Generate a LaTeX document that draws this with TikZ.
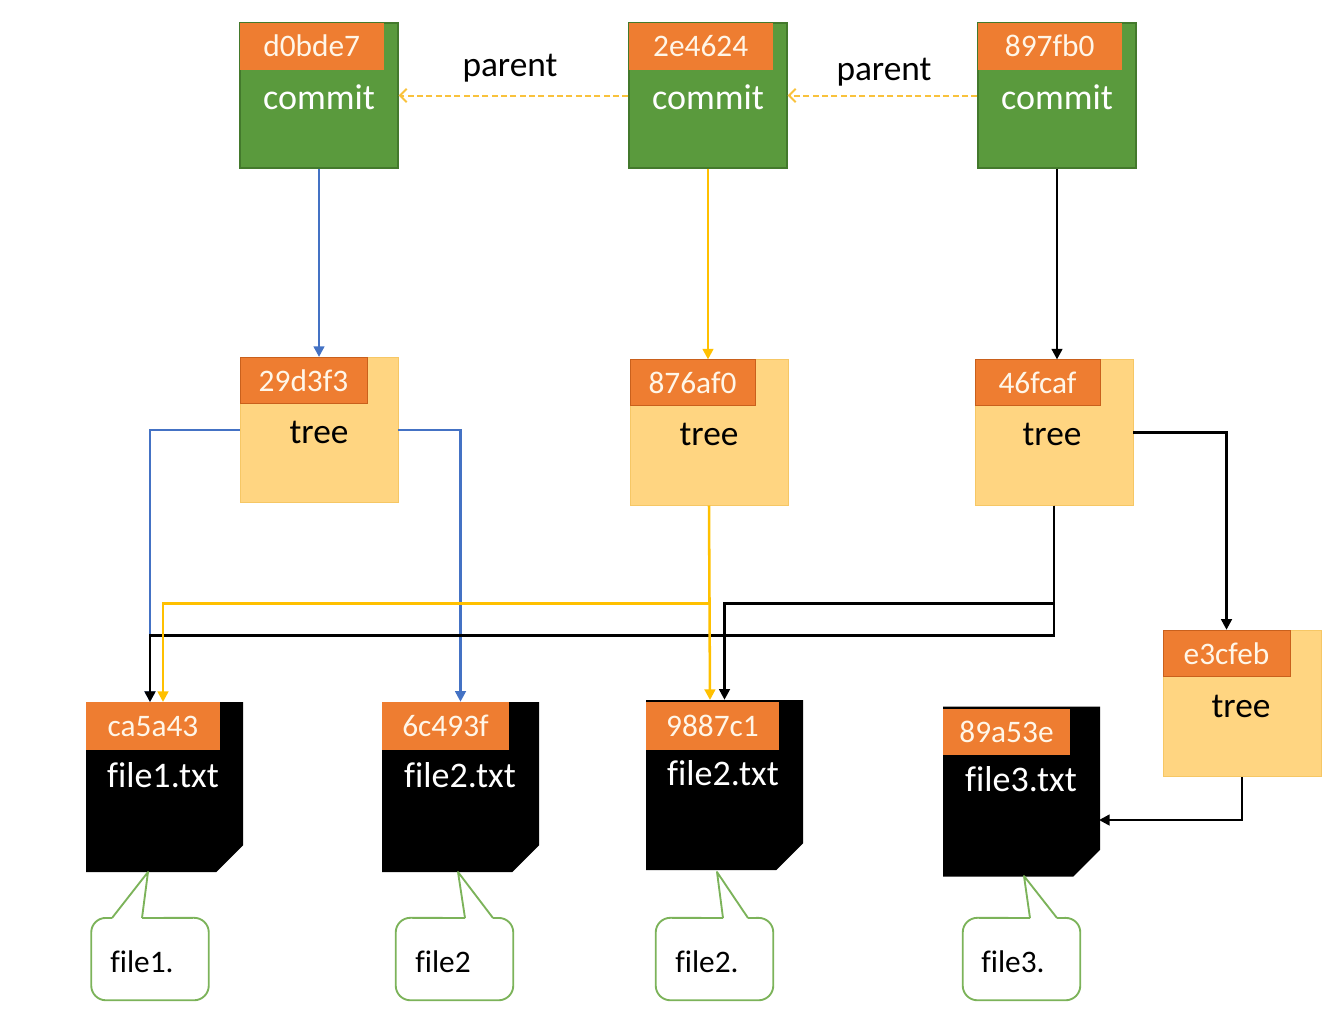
\documentclass[tikz,border=0pt]{standalone}
\usepackage{fontspec}
\setmainfont{Carlito}[Ligatures=NoCommon]
\usetikzlibrary{arrows.meta}
\definecolor{cgreen}{HTML}{5A9A3D}
\definecolor{cgreendk}{HTML}{43792C}
\definecolor{corange}{HTML}{EE7D31}
\definecolor{corangedk}{HTML}{C9601C}
\definecolor{ctree}{HTML}{FFD581}
\definecolor{ctreedk}{HTML}{F6C765}
\definecolor{cblue}{HTML}{4472C4}
\definecolor{cyel}{HTML}{FFC000}
\definecolor{cdash}{HTML}{F9C23C}
\definecolor{ccall}{HTML}{7CB35A}
\definecolor{ccream}{HTML}{FFF6E8}
\begin{document}
\begin{tikzpicture}[x=0.75pt,y=-0.75pt,
  commitbox/.style={draw=cgreendk, fill=cgreen, line width=0.9pt, minimum width=118.5pt, minimum height=108.75pt, inner sep=0pt},
  treebox/.style={draw=ctreedk, fill=ctree, line width=0.6pt, minimum width=118.5pt, minimum height=109pt, inner sep=0pt},
  filebox/.style={minimum width=117.75pt, minimum height=127.5pt, inner sep=0pt,
    path picture={\fill[black] (path picture bounding box.north west) -- (path picture bounding box.north east)
      -- ([yshift=20pt]path picture bounding box.south east) -- ([xshift=-20pt]path picture bounding box.south east)
      -- (path picture bounding box.south west) -- cycle;}},
  hashlbl/.style={fill=corange, anchor=north west, minimum height=35.25pt, inner sep=0pt, text=ccream, font=\fontsize{23.5}{26}\selectfont},
  treelbl/.style={hashlbl, draw=corangedk, line width=0.6pt},
  wtext/.style={text=white, font=\fontsize{27}{30}\selectfont, inner sep=0pt},
  btext/.style={text=black, font=\fontsize{26.5}{30}\selectfont, inner sep=0pt},
  calltext/.style={text=black, font=\fontsize{23.5}{26}\selectfont, inner sep=0pt, anchor=west},
  callbox/.style={minimum width=87.75pt, minimum height=61.5pt, inner sep=0pt},
  callline/.style={draw=ccall, line width=1.4pt},
  conn/.style={line width=1.9pt, -{Triangle[length=8pt,width=8pt]}},
  parentarrow/.style={draw=cdash, line width=1.5pt, dash pattern=on 4.5pt off 2.5pt, -{Straight Barb[length=5pt,width=10pt]}}
]
\useasboundingbox (0,0) rectangle (1341,1015);

% ---------------- commits ----------------
\node[commitbox] (c1) at (319,95.5) {};
\node[hashlbl, minimum width=108pt] (c1l) at (c1.north west) {d0bde7};
\node[wtext] (c1t) at (319,97) {commit};

\node[commitbox] (c2) at (708,95.5) {};
\node[hashlbl, minimum width=108pt] (c2l) at (c2.north west) {2e4624};
\node[wtext] (c2t) at (708,97) {commit};

\node[commitbox] (c3) at (1057,95.5) {};
\node[hashlbl, minimum width=108pt] (c3l) at (c3.north west) {897fb0};
\node[wtext] (c3t) at (1057,97) {commit};

% parent links
\draw[parentarrow] (c2.west) -- (c1.east);
\draw[parentarrow] (c3.west) -- (c2.east);
\node[btext] (p1) at (510,68) {parent};
\node[btext] (p2) at (884,72) {parent};

% ---------------- trees ----------------
\node[treebox] (t1) at (319,430) {};
\node[treelbl, minimum width=95.25pt, minimum height=34.5pt] (t1l) at (t1.north west) {29d3f3};
\node[btext] (t1t) at (319,432) {tree};

\node[treebox] (t2) at (709,432.5) {};
\node[treelbl, minimum width=93.75pt, minimum height=34.5pt] (t2l) at (t2.north west) {876af0};
\node[btext] (t2t) at (709,434) {tree};

\node[treebox] (t3) at (1054,432.5) {};
\node[treelbl, minimum width=93.75pt, minimum height=34.5pt] (t3l) at (t3.north west) {46fcaf};
\node[btext] (t3t) at (1052,434) {tree};

\node[treebox, minimum height=110pt] (t4) at (1242,703.5) {};
\node[treelbl, minimum width=95.25pt, minimum height=35pt] (t4l) at (t4.north west) {e3cfeb};
\node[btext] (t4t) at (1241,706) {tree};

% ---------------- files ----------------
\node[filebox] (f1) at (164.5,787) {};
\node[hashlbl, minimum width=100.5pt, minimum height=36pt] (f1l) at (f1.north west) {ca5a43};
\node[wtext] (f1t) at (163,775) {file1.txt};

\node[filebox] (f2) at (460.5,787) {};
\node[hashlbl, minimum width=95.25pt, minimum height=36pt] (f2l) at (f2.north west) {6c493f};
\node[wtext] (f2t) at (460,775) {file2.txt};

\node[filebox] (f3) at (724.5,785) {};
\node[hashlbl, minimum width=99.75pt, minimum height=36pt] (f3l) at ([yshift=-1.5pt]f3.north west) {9887c1};
\node[wtext] (f3t) at (723,773) {file2.txt};

\node[filebox] (f4) at (1021.5,791.5) {};
\node[hashlbl, minimum width=95.25pt, minimum height=35pt] (f4l) at ([yshift=-1.5pt]f4.north west) {89a53e};
\node[wtext] (f4t) at (1021,779) {file3.txt};

% ---------------- connectors ----------------
\coordinate (f1a) at (150,702);
\coordinate (f1b) at (163,702);
\coordinate (f3a) at (710,700);
\coordinate (f4in) at (1099,820);

\draw[conn, cblue] (c1.south) -- (t1.north);
\draw[conn, cyel] (c2.south) -- (c2.south |- t2.north);
\draw[conn, black] (c3.south) -- (c3.south |- t3.north);

\draw[conn, cblue] (t1.west) -| (f1a);
\draw[conn, cblue] (t1.east) -| (f2.north);

\draw[conn, black] (t3.south) -- ++(0,130) -| (f1a);
\draw[conn, black] (t3.south) -- ++(0,98) -| (f3.north);
\draw[conn, black] (t3.east) -| (t4l.north);
\draw[conn, black] (t4.south) |- (f4in);

\draw[conn, cyel] (t2.south) -- (f3a);
\draw[conn, cyel] (t2.south) -- ++(0,98) -| (f1b);

% ---------------- callouts ----------------
\node[callbox] (b1) at (150,959) {};
\draw[callline, rounded corners=11pt] (112,918) -- (b1.north west) -- (b1.south west) -- (b1.south east) -- (b1.north east) -- (142,918);
\draw[callline, line join=round] (112,918) -- (148,872) -- (142,918);
\node[calltext] (b1t) at (110,962) {file1.};

\node[callbox] (b2) at (454.5,959) {};
\draw[callline, rounded corners=11pt] (465,918) -- (b2.north west) -- (b2.south west) -- (b2.south east) -- (b2.north east) -- (493,918);
\draw[callline, line join=round] (465,918) -- (458,872) -- (493,918);
\node[calltext] (b2t) at (415,962) {file2};

\node[callbox] (b3) at (714.5,959) {};
\draw[callline, rounded corners=11pt] (723,918) -- (b3.north west) -- (b3.south west) -- (b3.south east) -- (b3.north east) -- (748,918);
\draw[callline, line join=round] (723,918) -- (717,872) -- (748,918);
\node[calltext] (b3t) at (675,962) {file2.};

\node[callbox] (b4) at (1021.5,959) {};
\draw[callline, rounded corners=11pt] (1030,918) -- (b4.north west) -- (b4.south west) -- (b4.south east) -- (b4.north east) -- (1057,918);
\draw[callline, line join=round] (1030,918) -- (1024,876) -- (1057,918);
\node[calltext] (b4t) at (981,962) {file3.};
\end{tikzpicture}
\end{document}
